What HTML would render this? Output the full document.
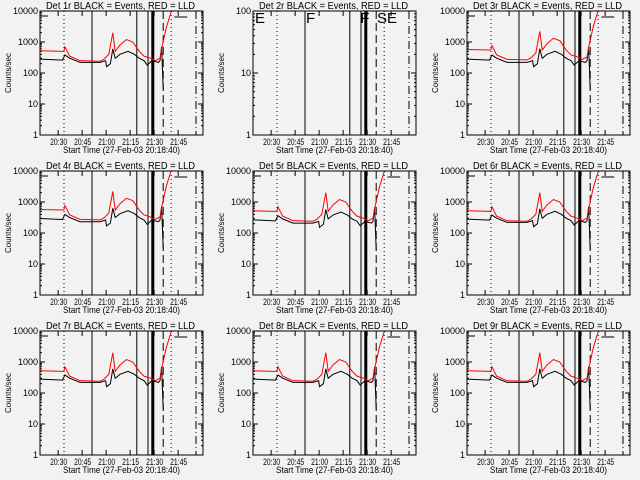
<!DOCTYPE html>
<html><head><meta charset="utf-8"><style>
body{margin:0;background:#f2f2f2}
svg{display:block}
text{font-family:"Liberation Sans",sans-serif;fill:#000}
</style></head><body>
<svg id="c" width="640" height="480"></svg>
<script>
const detectors = ['1r','2r','3r','4r','5r','6r','7r','8r','9r'];
const hasData = [1,0,1,1,1,1,1,1,1];
const tickLabels = ['20:30','20:45','21:00','21:15','21:30','21:45'];
const tickMinutes = [11.33,26.33,41.33,56.33,71.33,86.33];
const redTimes = [0,14,15,15.6,18.5,25,37.5,40,43,45.5,47,50,54,58,62,65,69,72,75,76.5,79,82,83];
const redValues = [520,500,520,700,350,250,240,280,400,2000,500,800,1200,1000,500,350,300,250,300,800,3000,9500,10000];
const blackTimes = [0,14,15.6,18.5,25,37.5,41,41.6,44,45.5,47,50,55,59,62,65,67,70,74,75,76,77];
const blackValues = [280,260,380,300,220,220,250,160,200,600,300,400,500,400,300,250,180,250,220,250,700,30];
const redScale = [1,0,1.1,1.1,1,1,1,1,1];
const blackScale = [1,0,1,1.05,0.95,1,1,1,1];
const markerTimes = [15,32.5,60.5,67.5,70.5,77,82,97.5];
const markerStyles = ['dot','solid','solid','solid','thick','dash','dot','dashdot'];
const svg = document.getElementById('c');
const NS='http://www.w3.org/2000/svg';
function mk(tag,attrs,parent){const e=document.createElementNS(NS,tag);for(const k in attrs)e.setAttribute(k,attrs[k]);(parent||svg).appendChild(e);return e;}
for(let i=0;i<9;i++){
  const ox=[0,213,427][i%3], oy=[0,160,320][Math.floor(i/3)];
  const L=ox+40,R=ox+203,T=oy+11,B=oy+135;
  const decades = hasData[i]?4:2;
  const g=mk('g',{});
  
  
  const xs=t=>L+t*1.6;
  const ys=v=>B-Math.log10(Math.max(v,1))*(B-T)/decades;
  const title=mk('text',{x:ox+46,y:oy+9,textLength:149,lengthAdjust:'spacingAndGlyphs',style:'font-size:10px'},g);
  title.textContent='Det '+detectors[i]+' BLACK = Events, RED = LLD';
  
  
  markerTimes.forEach((t,k)=>{
    const x=xs(t),st=markerStyles[k];
    const a={x1:x,x2:x,y1:T,y2:B,stroke:'#000','stroke-width':st==='thick'?3:1};
    if(st==='dot')a['stroke-dasharray']='1,3';
    if(st==='dash')a['stroke-dasharray']='8,4';
    if(st==='dashdot')a['stroke-dasharray']='8,3,1,3';
    const ln=mk('line',a,g);
    
    
  });
  for(let d=0;d<=decades;d++){
    const v=Math.pow(10,d),y=ys(v);
    mk('line',{x1:L,x2:L+5,y1:y,y2:y,stroke:'#000'},g);
    mk('line',{x1:R-5,x2:R,y1:y,y2:y,stroke:'#000'},g);
    const tl=mk('text',{x:L-2,y:y+3,'text-anchor':'end',style:'font-size:9px'},g);
    tl.textContent=String(v);
    
    
    if(d<decades)for(let m=2;m<10;m++){const yy=ys(v*m);
      mk('line',{x1:L,x2:L+2,y1:yy,y2:yy,stroke:'#000'},g);
      mk('line',{x1:R-2,x2:R,y1:yy,y2:yy,stroke:'#000'},g);}
  }
  tickMinutes.forEach((t,k)=>{
    const x=xs(t);
    mk('line',{x1:x,x2:x,y1:B,y2:B-5,stroke:'#000'},g);
    mk('line',{x1:x,x2:x,y1:T,y2:T+5,stroke:'#000'},g);
    const tl=mk('text',{x:x-8,y:B+10,textLength:17,lengthAdjust:'spacingAndGlyphs',style:'font-size:9px'},g);
    tl.textContent=tickLabels[k];
    
    
  });
  const xt=mk('text',{x:ox+63,y:B+18,textLength:117,lengthAdjust:'spacingAndGlyphs',style:'font-size:9.5px'},g);
  xt.textContent='Start Time (27-Feb-03 20:18:40)';
  
  
  const yt=mk('text',{x:ox+11,y:oy+73,'text-anchor':'middle',transform:'rotate(-90 '+(ox+11)+' '+(oy+73)+')',style:'font-size:8px'},g);
  yt.textContent='Counts/sec';
  
  
  if(hasData[i]){
    const clip='clip'+i;
    const cp=mk('clipPath',{id:clip},g);mk('rect',{x:L,y:T,width:R-L,height:B-T},cp);
    const bp=blackTimes.map((t,k)=>xs(t)+','+ys(blackValues[k]*blackScale[i])).join(' ');
    const bl=mk('polyline',{points:bp,fill:'none',stroke:'#000','stroke-width':1,'clip-path':'url(#'+clip+')'},g);
    
    
    const rp=redTimes.map((t,k)=>xs(t)+','+ys(redValues[k]*redScale[i])).join(' ');
    const rl=mk('polyline',{points:rp,fill:'none',stroke:'#ff0000','stroke-width':1,'clip-path':'url(#'+clip+')'},g);
    
    
    mk('line',{x1:xs(84),x2:xs(92),y1:T+6,y2:T+6,stroke:'#000'},g);
    mk('line',{x1:L,x2:L+8,y1:T+5,y2:T+5,stroke:'#000'},g);
  } else {
    [['E',L+2],['F',xs(32.5)+1],['F',xs(67)],['SE',xs(77.5)]].forEach(p=>{
      const lt=mk('text',{x:p[1],y:T+12,style:'font-size:15px'},g);lt.textContent=p[0];
      
      
    });
  }
  const fr=mk('rect',{x:L,y:T,width:R-L,height:B-T,fill:'none',stroke:'#000'},g);
  
  
}
</script>
</body></html>
